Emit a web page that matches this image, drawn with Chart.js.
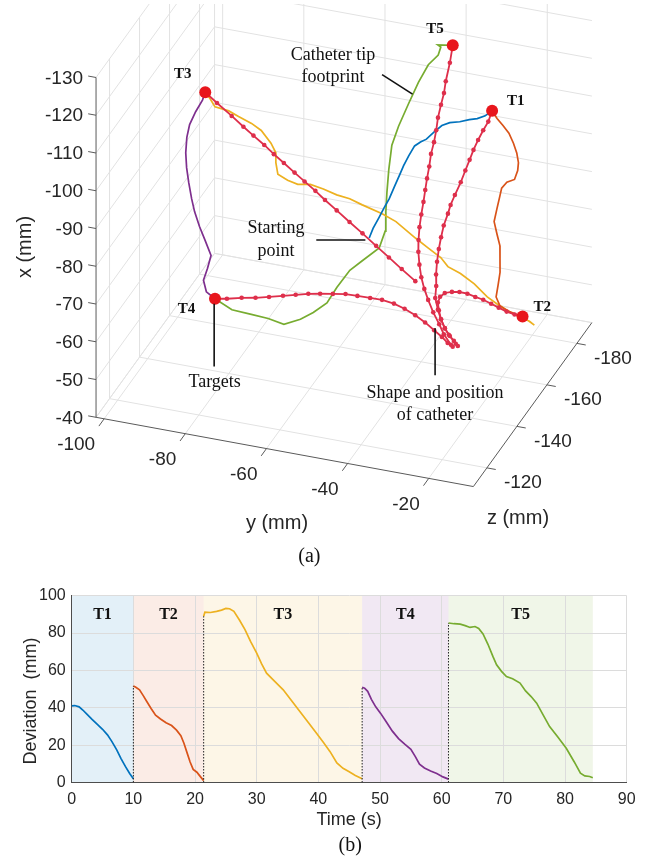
<!DOCTYPE html>
<html>
<head>
<meta charset="utf-8">
<title>Catheter tip tracking</title>
<script src="https://cdn.jsdelivr.net/npm/chart.js@4.4.1/dist/chart.umd.min.js"></script>
<style>
  html, body { margin: 0; padding: 0; background: #ffffff; }
  canvas { display: block; }
</style>
</head>
<body>
<canvas id="chart-3d" width="663" height="580"></canvas>
<canvas id="chart-dev" width="663" height="282"></canvas>
<script>
// ---------- (a) 3D workspace, all values in mm ----------
const xLimits = [-130, -40];
const yLimits = [-102, -9];
const zLimits = [-190, -111];
const xTicks = [-130, -120, -110, -100, -90, -80, -70, -60, -50, -40];
const yTicks = [-100, -80, -60, -40, -20];
const zTicks = [-180, -160, -140, -120];

// points are [y, z, x]
const targetNames = ['T1', 'T2', 'T3', 'T4', 'T5'];
const targets = [
    [-26.2, -170, -103.7],
    [-15.0, -160, -56.9],
    [-93.2, -160, -100.9],
    [-87.1, -150, -52.9],
    [-39.6, -180, -112.9]
];
const startPoint = [-45.4, -140, -82.7];

// tip footprint while steering to each target
const pathT1 = [
    [-45.4, -140, -82.7], [-45.0, -141.5, -84.5], [-44.1, -143, -86.7], [-43.4, -144.5, -88.6],
    [-42.7, -146, -90.3], [-41.9, -147.5, -93.0], [-41.2, -149, -95.4], [-40.8, -150.5, -97.0],
    [-40.1, -152, -98.9], [-39.2, -153.5, -100.9], [-38.3, -155, -101.3], [-37.4, -156.5, -101.4],
    [-36.1, -158, -102.7], [-34.7, -159.5, -103.9], [-33.3, -161, -104.1], [-31.4, -162.5, -103.9],
    [-29.6, -164, -104.0], [-28.2, -165.5, -103.7], [-26.8, -167, -103.9], [-26.2, -170, -103.7]
];
const pathT2 = [
    [-26.2, -170, -103.7], [-24.8, -169.5, -102.2], [-23.2, -169, -101.0], [-21.5, -168.5, -99.5],
    [-20.2, -168, -97.4], [-19.2, -167.5, -95.3], [-18.6, -167, -93.1], [-18.6, -166.5, -91.3],
    [-19.2, -166, -89.1], [-20.9, -165.5, -88.3], [-22.0, -165, -86.8], [-22.3, -164.5, -84.7],
    [-22.8, -164, -81.7], [-23.3, -163.5, -78.5], [-22.4, -163, -75.6], [-21.5, -162.5, -73.0],
    [-21.3, -162, -69.9], [-21.1, -161.5, -66.6], [-21.4, -161, -63.4], [-21.7, -160.5, -60.5],
    [-20.6, -160, -58.7], [-18.4, -160, -57.6], [-16.5, -160, -57.2], [-15.0, -160, -56.9]
];
const pathT3 = [
    [-15.0, -160, -56.9], [-12.1, -160, -55.2], [-13.3, -160, -56.0], [-17.4, -160, -57.2],
    [-21.1, -160, -58.9], [-23.7, -160, -60.4], [-26.9, -160, -63.2], [-30.3, -160, -65.3],
    [-33.4, -160, -66.5], [-35.1, -160, -68.5], [-38.3, -160, -70.5], [-41.4, -160, -72.5],
    [-46.2, -160, -75.9], [-49.6, -160, -77.3], [-54.5, -160, -78.7], [-57.6, -160, -79.7],
    [-60.8, -160, -80.1], [-64.1, -160, -81.0], [-67.3, -160, -81.6], [-70.4, -160, -81.0],
    [-72.9, -160, -81.6], [-75.3, -160, -82.7], [-75.8, -160, -85.7], [-75.8, -160, -88.3],
    [-77.0, -160, -90.6], [-79.4, -160, -93.5], [-81.8, -160, -94.9], [-85.0, -160, -96.1],
    [-87.4, -160, -97.1], [-90.8, -160, -97.5], [-92.0, -160, -99.4], [-93.2, -160, -100.9]
];
const pathT4 = [
    [-93.2, -160, -100.9], [-93.7, -159.5, -99.0], [-95.2, -159, -95.9], [-96.5, -158.5, -92.5],
    [-97.0, -158, -89.3], [-96.9, -157, -85.8], [-96.5, -156.5, -82.2], [-95.8, -156, -78.7],
    [-94.7, -155, -75.1], [-93.8, -154.5, -72.2], [-92.4, -154, -68.8], [-90.6, -153, -65.9],
    [-89.0, -152.5, -62.6], [-89.7, -152, -59.3], [-90.5, -151.5, -56.3], [-89.6, -151, -53.7],
    [-87.1, -150, -52.9]
];
const pathT5 = [
    [-87.1, -150, -52.9], [-83.3, -151, -50.2], [-78.9, -152, -49.3], [-75.1, -153, -48.4],
    [-71.6, -154, -47.0], [-67.9, -155, -48.5], [-65.1, -156, -50.3], [-62.1, -157, -52.9],
    [-60.0, -158, -56.9], [-57.2, -159, -61.4], [-54.5, -160, -63.9], [-50.7, -161, -67.5],
    [-49.6, -162, -71.6], [-49.8, -163, -76.2], [-49.9, -164, -80.8], [-50.0, -165.5, -85.9],
    [-49.8, -167, -91.6], [-48.7, -168.5, -96.0], [-46.8, -170, -101.5], [-45.1, -172, -106.4],
    [-43.4, -174, -110.3], [-41.7, -176, -112.1], [-41.8, -178, -113.1], [-42.9, -179, -112.9],
    [-39.6, -180, -112.9]
];

// catheter shape when the tip reaches each target (tip first)
const shapeT1 = [
    [-26.2, -170, -103.7], [-26.4, -168, -101.9], [-27.1, -166.5, -100.3], [-27.8, -165, -98.4],
    [-28.2, -163, -96.8], [-28.6, -161.5, -94.9], [-29.1, -160, -92.8], [-29.5, -158, -90.7],
    [-30.2, -156, -88.3], [-30.7, -154.5, -86.4], [-30.8, -153, -84.9], [-31.1, -151, -82.8],
    [-31.2, -149.5, -80.5], [-31.2, -148, -78.2], [-30.9, -146, -76.0], [-30.4, -144, -73.8],
    [-29.8, -142.5, -71.7], [-29.5, -141, -69.4], [-28.1, -139, -67.7], [-26.8, -137.5, -66.2],
    [-25.3, -136, -65.0], [-23.3, -134, -64.4], [-21.1, -132, -63.9]
];
const shapeT2 = [
    [-15.0, -160, -56.9], [-16.6, -159, -57.7], [-18.0, -157.5, -59.0], [-19.4, -156, -60.6],
    [-20.7, -154.5, -62.2], [-22.1, -153, -63.8], [-23.5, -151.5, -65.1], [-24.9, -150, -66.5],
    [-26.3, -148.5, -67.5], [-27.6, -147, -68.1], [-28.8, -145.5, -68.4], [-29.4, -144, -68.1],
    [-29.4, -142.5, -67.4], [-28.6, -141, -66.3], [-27.5, -139.5, -65.0], [-26.0, -138, -63.7],
    [-24.5, -136.5, -63.1], [-22.5, -134.5, -63.0], [-20.6, -132, -63.4]
];
const shapeT3 = [
    [-93.2, -160, -100.9], [-89.9, -158.9, -99.3], [-85.8, -157.6, -97.4], [-82.5, -156.5, -95.8],
    [-79.7, -155.6, -94.5], [-76.7, -154.7, -93.1], [-74.0, -153.8, -91.7], [-71.2, -152.9, -90.4],
    [-68.2, -151.9, -89.0], [-65.4, -151.0, -87.7], [-62.4, -150.1, -86.3], [-59.7, -149.2, -84.9],
    [-56.4, -148.1, -83.4], [-52.8, -146.9, -81.7], [-49.2, -145.8, -80.0], [-45.4, -144.6, -78.1],
    [-41.8, -143.4, -76.4], [-38.2, -142.2, -74.7], [-34.4, -141, -72.9]
];
const shapeT4 = [
    [-87.1, -150, -52.9], [-83.8, -149, -54.1], [-79.8, -148, -55.7], [-76.0, -147, -57.0],
    [-72.3, -146, -58.5], [-68.5, -145, -60.1], [-65.0, -144, -61.6], [-61.7, -143.5, -62.8],
    [-58.6, -143, -63.7], [-55.1, -142, -64.9], [-51.6, -141, -66.1], [-48.3, -140, -66.8],
    [-44.8, -139, -67.5], [-41.5, -138, -68.2], [-38.2, -137, -68.4], [-35.2, -136, -68.2],
    [-32.2, -135, -67.6], [-29.4, -134, -66.8], [-26.8, -133, -65.8], [-24.7, -132.5, -64.7],
    [-23.1, -132, -63.7], [-21.5, -131, -63.6]
];
const shapeT5 = [
    [-39.6, -180, -112.9], [-39.2, -177, -110.0], [-39.1, -174, -106.8], [-38.8, -172, -104.8],
    [-38.8, -170, -102.8], [-38.8, -168, -100.5], [-38.5, -166, -98.3], [-38.3, -164, -96.3],
    [-38.3, -162, -94.3], [-38.0, -160, -92.1], [-37.8, -158, -90.1], [-37.5, -156, -88.2],
    [-37.2, -154, -86.2], [-37.0, -152, -84.0], [-36.7, -150, -81.8], [-36.2, -148, -79.6],
    [-35.5, -146, -77.7], [-34.5, -144, -75.6], [-33.3, -142, -73.6], [-32.0, -140.5, -71.6],
    [-30.5, -139, -69.8], [-28.5, -137, -68.0], [-26.3, -135, -66.4], [-24.6, -133.5, -64.9],
    [-22.3, -132, -63.4]
];

// ---------- (b) deviation from the active target ----------
const timeT1 = [0, 0.5, 1.2, 1.8, 2.5, 3.3, 4.2, 5.0, 5.8, 6.5, 7.3, 8.0, 8.7, 9.4, 10.0];
const devT1 = [41.0, 41.2, 40.5, 38.8, 36.5, 33.8, 31.0, 28.5, 25.5, 22.0, 17.5, 12.8, 8.6, 4.8, 2.0];
const timeT2 = [10.0, 10.4, 11.0, 11.6, 12.2, 12.9, 13.6, 14.4, 15.3, 16.2, 17.0, 17.7, 18.2, 18.7, 19.2, 19.7, 20.3, 20.9, 21.4];
const devT2 = [51.7, 51.0, 49.6, 46.5, 43.2, 39.5, 36.0, 34.0, 32.0, 30.5, 28.0, 25.0, 21.0, 16.0, 11.0, 7.0, 5.5, 3.0, 1.0];
const timeT3 = [21.4, 21.6, 22.5, 23.5, 24.3, 25.0, 25.6, 26.3, 27.2, 28.1, 29.0, 30.0, 30.8, 31.6, 32.8, 34.3,
                35.6, 37.0, 38.4, 39.7, 40.8, 41.9, 43.0, 44.0, 45.0, 46.0, 47.1];
const devT3 = [89.0, 91.2, 91.0, 91.6, 92.3, 93.2, 93.0, 91.6, 87.0, 81.8, 75.5, 69.3, 63.5, 58.5, 54.5, 49.6,
               44.0, 38.0, 32.0, 26.4, 21.5, 16.5, 10.5, 7.6, 5.8, 3.8, 2.0];
const timeT4 = [47.1, 47.5, 48.0, 48.6, 49.3, 50.1, 51.0, 52.0, 53.0, 54.0, 55.0, 55.7, 56.4, 57.2, 58.2, 59.2, 60.2, 61.1];
const devT4 = [51.0, 50.5, 48.8, 44.5, 40.5, 37.0, 32.5, 27.5, 23.5, 20.5, 17.8, 14.0, 9.8, 7.8, 6.2, 4.8, 3.0, 1.8];
const timeT5 = [61.1, 62.0, 63.0, 63.8, 64.6, 65.4, 66.0, 66.7, 67.5, 68.3, 68.9, 69.7, 70.5, 71.5, 72.7, 73.6,
                74.5, 75.4, 76.4, 77.5, 78.8, 80.2, 81.5, 82.5, 83.2, 84.0, 84.5];
const devT5 = [85.4, 85.0, 84.8, 84.0, 83.0, 83.5, 82.5, 79.5, 74.0, 67.5, 63.0, 59.5, 56.7, 55.5, 53.2, 49.0,
               46.0, 42.5, 36.5, 29.9, 24.5, 18.3, 11.0, 5.0, 3.5, 3.2, 2.5];
const phaseEdges = [0, 10, 21.4, 47.1, 61.1, 84.5];

// ---------- styles ----------
const SANS = '"Liberation Sans", Arial, Helvetica, sans-serif';
const SERIF = '"Liberation Serif", "Times New Roman", serif';
const lineColors = ['#0072BD', '#D95319', '#EDB120', '#7E2F8E', '#77AC30'];
const shapeColor = '#de2f4b';
const targetColor = '#e8161d';

// screen direction of each box edge; the view plane is 663 x 580 units
const VIEW = {
    origin: [91.7, 420],      // corner y min / z max / x max
    yEdge: [384.3, 70.7],     // whole y range
    zEdge: [120.7, -167.4],   // z max (front) -> z min (back)
    xEdge: [0, -347]          // x max (bottom) -> x min (top)
};

function project(p) {
    const fy = (p[0] - yLimits[0]) / (yLimits[1] - yLimits[0]);
    const fz = (zLimits[1] - p[1]) / (zLimits[1] - zLimits[0]);
    const fx = (xLimits[1] - p[2]) / (xLimits[1] - xLimits[0]);
    return {
        x: VIEW.origin[0] + fy * VIEW.yEdge[0] + fz * VIEW.zEdge[0] + fx * VIEW.xEdge[0],
        y: VIEW.origin[1] + fy * VIEW.yEdge[1] + fz * VIEW.zEdge[1] + fx * VIEW.xEdge[1]
    };
}

function unit(v, len) {
    const n = Math.hypot(v[0], v[1]);
    return [v[0] / n * len, v[1] / n * len];
}

// annotations in view units
const notes = [
    { lines: ['Catheter tip', 'footprint'], at: [333, 50], lead: [[383, 70], [414, 90]] },
    { lines: ['Starting', 'point'], at: [275, 227], lead: [[316, 239], [366, 239]] },
    { lines: ['Targets'], at: [212.5, 384], lead: [[212, 304], [212, 368]] },
    { lines: ['Shape and position', 'of catheter'], at: [437, 395], lead: [[437, 329], [437, 377]] }
];
const targetLabelOffsets = [[24, -10], [20, -10], [-23, -18], [-29, 11], [-18, -17]];

// grid, axes, tick labels of the 3D box
const box3d = {
    id: 'box3d',
    beforeDatasetsDraw(chart) {
        const ctx = chart.ctx;
        const toPx = p => {
            const q = project(p);
            return [chart.scales.x.getPixelForValue(q.x), chart.scales.y.getPixelForValue(q.y)];
        };
        const seg = (a, b) => {
            const A = toPx(a), B = toPx(b);
            ctx.moveTo(A[0], A[1]);
            ctx.lineTo(B[0], B[1]);
        };
        const [y0, y1] = yLimits, [z0, z1] = zLimits, [x0, x1] = xLimits;

        ctx.save();
        ctx.beginPath();
        ctx.rect(0, 4, chart.width, chart.height - 4);
        ctx.clip();

        ctx.strokeStyle = '#e2e2e2';
        ctx.lineWidth = 1;
        ctx.beginPath();
        // floor
        yTicks.forEach(y => seg([y, z1, x1], [y, z0, x1]));
        zTicks.forEach(z => seg([y0, z, x1], [y1, z, x1]));
        seg([y0, z0, x1], [y1, z0, x1]);
        seg([y0, z1, x1], [y0, z0, x1]);
        // left wall
        xTicks.forEach(x => seg([y0, z1, x], [y0, z0, x]));
        zTicks.forEach(z => seg([y0, z, x1], [y0, z, x0]));
        seg([y0, z0, x1], [y0, z0, x0]);
        // back wall
        xTicks.forEach(x => seg([y0, z0, x], [y1, z0, x]));
        yTicks.forEach(y => seg([y, z0, x1], [y, z0, x0]));
        ctx.stroke();
        ctx.restore();

        // axis lines and ticks
        ctx.save();
        ctx.strokeStyle = '#5a5a5a';
        ctx.lineWidth = 1;
        ctx.beginPath();
        seg([y0, z1, x1], [y0, z1, x0]);
        seg([y0, z1, x1], [y1, z1, x1]);
        seg([y1, z1, x1], [y1, z0, x1]);
        const tx = unit([-VIEW.yEdge[0], -VIEW.yEdge[1]], 8);
        const ty = unit([-VIEW.zEdge[0], -VIEW.zEdge[1]], 9);
        const tz = unit(VIEW.yEdge, 9);
        xTicks.forEach(x => { const b = toPx([y0, z1, x]); ctx.moveTo(b[0], b[1]); ctx.lineTo(b[0] + tx[0], b[1] + tx[1]); });
        yTicks.forEach(y => { const b = toPx([y, z1, x1]); ctx.moveTo(b[0], b[1]); ctx.lineTo(b[0] + ty[0], b[1] + ty[1]); });
        zTicks.forEach(z => { const b = toPx([y1, z, x1]); ctx.moveTo(b[0], b[1]); ctx.lineTo(b[0] + tz[0], b[1] + tz[1]); });
        ctx.stroke();

        ctx.fillStyle = '#262626';
        ctx.font = '19px ' + SANS;
        ctx.textBaseline = 'middle';
        ctx.textAlign = 'right';
        xTicks.forEach(x => { const b = toPx([y0, z1, x]); ctx.fillText(String(x), b[0] - 13, b[1] + 1); });
        yTicks.forEach(y => { const b = toPx([y, z1, x1]); ctx.fillText(String(y), b[0] - 9, b[1] + 26); });
        ctx.textAlign = 'left';
        zTicks.forEach(z => { const b = toPx([y1, z, x1]); ctx.fillText(String(z), b[0] + 17, b[1] + 15); });

        // axis titles
        ctx.font = '20px ' + SANS;
        ctx.textAlign = 'center';
        ctx.fillText('y (mm)', 277, 523);
        ctx.fillText('z (mm)', 518, 518);
        ctx.save();
        ctx.translate(25, 247);
        ctx.rotate(-Math.PI / 2);
        ctx.fillText('x (mm)', 0, 0);
        ctx.restore();
        ctx.restore();
    },
    afterDatasetsDraw(chart) {
        const ctx = chart.ctx;
        const sx = chart.scales.x, sy = chart.scales.y;
        ctx.save();
        ctx.strokeStyle = '#111111';
        ctx.lineWidth = 1.6;
        ctx.fillStyle = '#111111';
        ctx.textAlign = 'center';
        ctx.textBaseline = 'middle';
        ctx.font = '18px ' + SERIF;
        notes.forEach(n => {
            ctx.beginPath();
            ctx.moveTo(sx.getPixelForValue(n.lead[0][0]), sy.getPixelForValue(n.lead[0][1]));
            ctx.lineTo(sx.getPixelForValue(n.lead[1][0]), sy.getPixelForValue(n.lead[1][1]));
            ctx.stroke();
            n.lines.forEach((t, i) => {
                ctx.fillText(t, sx.getPixelForValue(n.at[0]), sy.getPixelForValue(n.at[1] + i * 23));
            });
        });
        ctx.font = 'bold 15px ' + SERIF;
        targets.forEach((p, i) => {
            const q = project(p);
            const o = targetLabelOffsets[i];
            ctx.fillText(targetNames[i], sx.getPixelForValue(q.x + o[0]), sy.getPixelForValue(q.y + o[1]));
        });
        ctx.font = '20px ' + SERIF;
        ctx.fillText('(a)', sx.getPixelForValue(309), sy.getPixelForValue(562));
        ctx.restore();
    }
};

const tipPaths = [pathT1, pathT2, pathT3, pathT4, pathT5];
const shapes = [shapeT1, shapeT2, shapeT3, shapeT4, shapeT5];

const sceneDatasets = [];
tipPaths.forEach((p, i) => {
    sceneDatasets.push({
        data: p.map(project),
        showLine: true,
        borderColor: lineColors[i],
        borderWidth: 1.7,
        pointRadius: 0,
        order: 2
    });
});
shapes.forEach(s => {
    sceneDatasets.push({
        data: s.map(project),
        showLine: true,
        borderColor: shapeColor,
        backgroundColor: shapeColor,
        borderWidth: 1.8,
        pointRadius: 2.3,
        pointBorderWidth: 0,
        order: 1
    });
});
sceneDatasets.push({
    data: targets.map(project),
    showLine: false,
    backgroundColor: targetColor,
    borderWidth: 0,
    pointRadius: 6,
    order: 0
});

new Chart(document.getElementById('chart-3d'), {
    type: 'scatter',
    data: { datasets: sceneDatasets },
    options: {
        responsive: false,
        animation: false,
        events: [],
        layout: { padding: 0 },
        plugins: { legend: { display: false }, tooltip: { enabled: false } },
        scales: {
            x: { type: 'linear', min: 0, max: 663, display: false },
            y: { type: 'linear', min: 0, max: 580, reverse: true, display: false }
        }
    },
    plugins: [box3d]
});

// ---------- (b) chart ----------
const devSeries = [[timeT1, devT1], [timeT2, devT2], [timeT3, devT3], [timeT4, devT4], [timeT5, devT5]];

const devDatasets = devSeries.map(([t, d], i) => ({
    data: t.map((v, k) => ({ x: v, y: d[k] })),
    showLine: true,
    borderColor: lineColors[i],
    borderWidth: 1.7,
    pointRadius: 0,
    order: 1
}));
// dotted jump where the next target becomes active
for (let i = 1; i < devSeries.length; i++) {
    const t0 = devSeries[i][0][0];
    devDatasets.push({
        data: [{ x: t0, y: 0 }, { x: t0, y: devSeries[i][1][0] }],
        showLine: true,
        borderColor: '#222222',
        borderWidth: 1,
        borderDash: [1.5, 1.5],
        pointRadius: 0,
        order: 0
    });
}

const phases = {
    id: 'phases',
    beforeDraw(chart) {
        const { ctx, chartArea: a, scales: { x, y } } = chart;
        ctx.save();
        for (let i = 0; i < phaseEdges.length - 1; i++) {
            const l = x.getPixelForValue(phaseEdges[i]);
            const r = x.getPixelForValue(phaseEdges[i + 1]);
            ctx.globalAlpha = 0.11;
            ctx.fillStyle = lineColors[i];
            ctx.fillRect(l, a.top, r - l, a.bottom - a.top);
        }
        ctx.restore();
    },
    afterDraw(chart) {
        const { ctx, chartArea: a, scales: { x, y } } = chart;
        ctx.save();
        ctx.fillStyle = '#111111';
        ctx.textAlign = 'center';
        ctx.textBaseline = 'middle';
        ctx.font = 'bold 16px ' + SERIF;
        for (let i = 0; i < phaseEdges.length - 1; i++) {
            const mid = (phaseEdges[i] + phaseEdges[i + 1]) / 2;
            ctx.fillText(targetNames[i], x.getPixelForValue(mid), y.getPixelForValue(89.5));
        }
        ctx.fillStyle = '#262626';
        ctx.font = '18px ' + SANS;
        ctx.fillText('Time (s)', (a.left + a.right) / 2, a.bottom + 38);
        ctx.save();
        ctx.translate(31, (a.top + a.bottom) / 2 + 12);
        ctx.rotate(-Math.PI / 2);
        ctx.fillText('Deviation  (mm)', 0, 0);
        ctx.restore();
        ctx.fillStyle = '#111111';
        ctx.font = '20px ' + SERIF;
        ctx.fillText('(b)', (a.left + a.right) / 2 + 1, a.bottom + 63);
        ctx.restore();
    }
};

new Chart(document.getElementById('chart-dev'), {
    type: 'scatter',
    data: { datasets: devDatasets },
    options: {
        responsive: false,
        animation: false,
        events: [],
        layout: { padding: { top: 15.7, right: 36.3, left: 0, bottom: 0 } },
        plugins: { legend: { display: false }, tooltip: { enabled: false } },
        scales: {
            x: {
                type: 'linear', min: 0, max: 90,
                ticks: { stepSize: 10, color: '#262626', font: { family: SANS, size: 16 }, padding: 7, maxRotation: 0 },
                grid: { color: '#dcdcdc', drawTicks: false },
                border: { color: '#4d4d4d', width: 1 },
                afterFit: s => { s.height = 79.5; }
            },
            y: {
                type: 'linear', min: 0, max: 100,
                ticks: { stepSize: 20, color: '#262626', font: { family: SANS, size: 16 }, padding: 6 },
                grid: { color: '#dcdcdc', drawTicks: false },
                border: { color: '#4d4d4d', width: 1 },
                afterFit: s => { s.width = 71.7; }
            }
        }
    },
    plugins: [phases]
});
</script>
</body>
</html>
